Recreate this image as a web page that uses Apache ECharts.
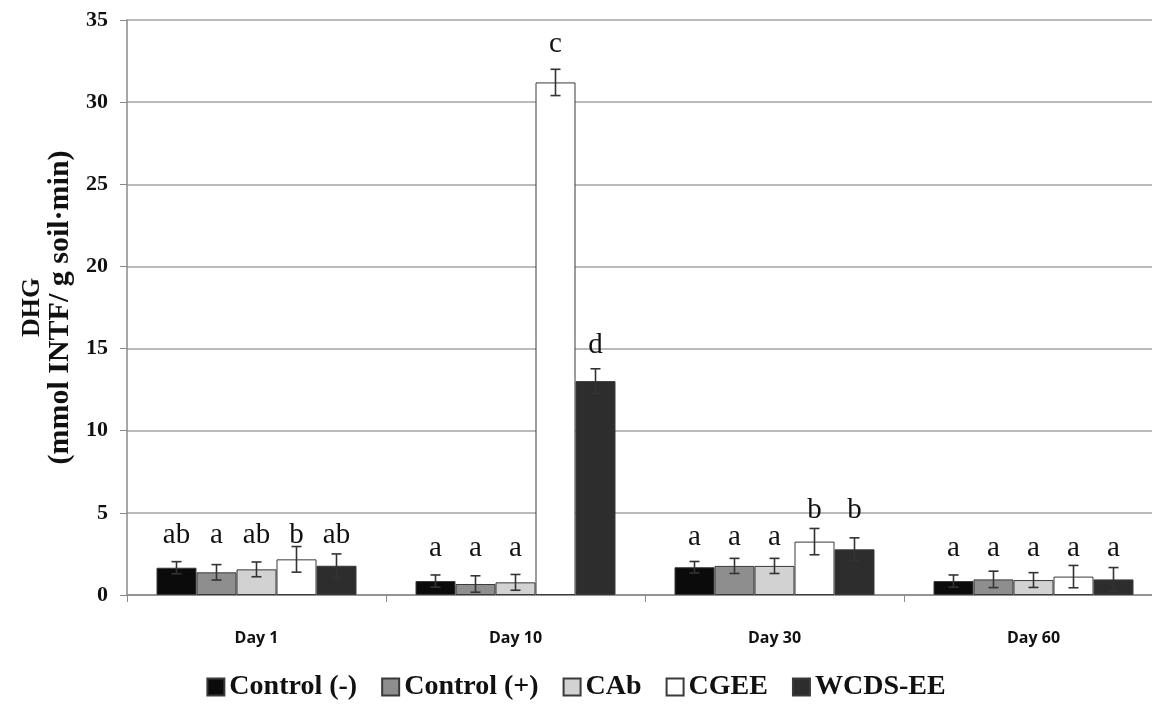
<!DOCTYPE html>
<html><head><meta charset="utf-8">
<script src="https://cdn.jsdelivr.net/npm/echarts@6/dist/echarts.min.js"></script>
<style>html,body{margin:0;padding:0;background:#fff}#c{width:1152px;height:706px}</style>
</head><body><div id="c"></div>
<script>
const categories = ['Day 1', 'Day 10', 'Day 30', 'Day 60'];
const seriesNames = ['Control (-)', 'Control (+)', 'CAb', 'CGEE', 'WCDS-EE'];
const controlNeg = [1.66, 0.85, 1.69, 0.85];
const controlPos = [1.38, 0.67, 1.77, 0.95];
const cab = [1.56, 0.77, 1.77, 0.91];
const cgee = [2.17, 31.2, 3.25, 1.12];
const wcds = [1.78, 13.02, 2.78, 0.95];
const errNeg = [0.37, 0.37, 0.35, 0.37];
const errPos = [0.47, 0.5, 0.46, 0.5];
const errCab = [0.45, 0.48, 0.46, 0.45];
const errCgee = [0.78, 0.8, 0.8, 0.68];
const errWcds = [0.72, 0.75, 0.7, 0.72];
const letNeg = ['ab', 'a', 'a', 'a'];
const letPos = ['a', 'a', 'a', 'a'];
const letCab = ['ab', 'a', 'a', 'a'];
const letCgee = ['b', 'c', 'b', 'a'];
const letWcds = ['ab', 'd', 'b', 'a'];
// heights (data units) at which the significance letters sit
const letYNeg = [3.6, 2.86, 3.53, 2.86];
const letYPos = [3.6, 2.86, 3.53, 2.86];
const letYCab = [3.6, 2.86, 3.53, 2.86];
const letYCgee = [3.6, 33.5, 5.17, 2.86];
const letYWcds = [3.6, 15.2, 5.17, 2.86];
const yTicks = [0, 5, 10, 15, 20, 25, 30, 35];

const values = [controlNeg, controlPos, cab, cgee, wcds];
const errs = [errNeg, errPos, errCab, errCgee, errWcds];
const letters = [letNeg, letPos, letCab, letCgee, letWcds];
const letYs = [letYNeg, letYPos, letYCab, letYCgee, letYWcds];
const colors = ['#0b0b0b', '#8e8e8e', '#d2d2d2', '#ffffff', '#2d2d2d'];
const BW = 40;

const chart = echarts.init(document.getElementById('c'));
const serif = '"Liberation Serif", "DejaVu Serif", serif';

const barSeries = seriesNames.map((n, i) => ({
  name: n, type: 'bar', data: values[i], barWidth: BW, barGap: '0%',
  itemStyle: { color: colors[i], borderColor: '#3a3a3a', borderWidth: 1 },
  z: 2
}));

const custData = [];
for (let s = 0; s < 5; s++) for (let c = 0; c < 4; c++)
  custData.push([c, values[s][c], errs[s][c], s, letYs[s][c], letters[s][c]]);

const custom = {
  type: 'custom', name: 'err', z: 5, silent: true,
  data: custData,
  encode: { x: 0, y: 1 },
  renderItem: function (params, api) {
    const c = api.value(0), v = api.value(1), e = api.value(2), s = api.value(3), ly = api.value(4);
    const off = (s - 2) * BW;
    const top = api.coord([c, v + e]);
    const bot = api.coord([c, Math.max(0, v - e)]);
    const lp = api.coord([c, ly]);
    const x = top[0] + off;
    const st = { stroke: '#333', lineWidth: 1.6 };
    const txt = custData[params.dataIndex][5];
    return { type: 'group', children: [
      { type: 'line', shape: { x1: x, y1: top[1], x2: x, y2: bot[1] }, style: st },
      { type: 'line', shape: { x1: x - 5, y1: top[1], x2: x + 5, y2: top[1] }, style: st },
      { type: 'line', shape: { x1: x - 5, y1: bot[1], x2: x + 5, y2: bot[1] }, style: st },
      { type: 'text', x: x, y: lp[1], style: { text: txt, fill: '#111', font: '29px ' + serif, align: 'center', verticalAlign: 'middle' } }
    ]};
  }
};

chart.setOption({
  animation: false,
  backgroundColor: '#fff',
  grid: { left: 127, right: -11, top: 20, bottom: 111, containLabel: false, outerBoundsMode: 'none' },
  legend: {
    data: seriesNames, bottom: 0, left: 'center', icon: 'rect',
    itemWidth: 17, itemHeight: 17, itemGap: 24,
    textStyle: { fontFamily: serif, fontWeight: 'bold', fontSize: 28, color: '#111' }
  },
  xAxis: {
    type: 'category', data: categories,
    axisLine: { lineStyle: { color: '#888', width: 1.5 } },
    axisTick: { show: true, length: 7, lineStyle: { color: '#888' } },
    axisLabel: { margin: 35, fontFamily: '"Open Sans", "Liberation Sans", sans-serif', fontWeight: 'bold', fontSize: 16, color: '#111' },
    splitLine: { show: false }
  },
  yAxis: {
    type: 'value', min: 0, max: 35, interval: 5,
    name: '{a|DHG}\n{b|(mmol INTF/ g soil·min)}', nameLocation: 'middle', nameGap: 52, nameRotate: 90,
    nameTextStyle: { fontFamily: serif, fontWeight: 'bold', color: '#111',
      rich: { a: { fontFamily: serif, fontWeight: 'bold', fontSize: 26, lineHeight: 28, color: '#111' },
              b: { fontFamily: serif, fontWeight: 'bold', fontSize: 30, lineHeight: 28, color: '#111' } } },
    axisLine: { show: true, lineStyle: { color: '#888', width: 1.5 } },
    axisTick: { show: true, length: 7, lineStyle: { color: '#888' } },
    axisLabel: { margin: 19, fontFamily: serif, fontWeight: 'bold', fontSize: 22, color: '#111',
      formatter: v => yTicks.includes(v) ? String(v) : '' },
    splitLine: { show: true, lineStyle: { color: '#a3a3a3', width: 1.6 } }
  },
  series: barSeries.concat([custom])
});
</script></body></html>
